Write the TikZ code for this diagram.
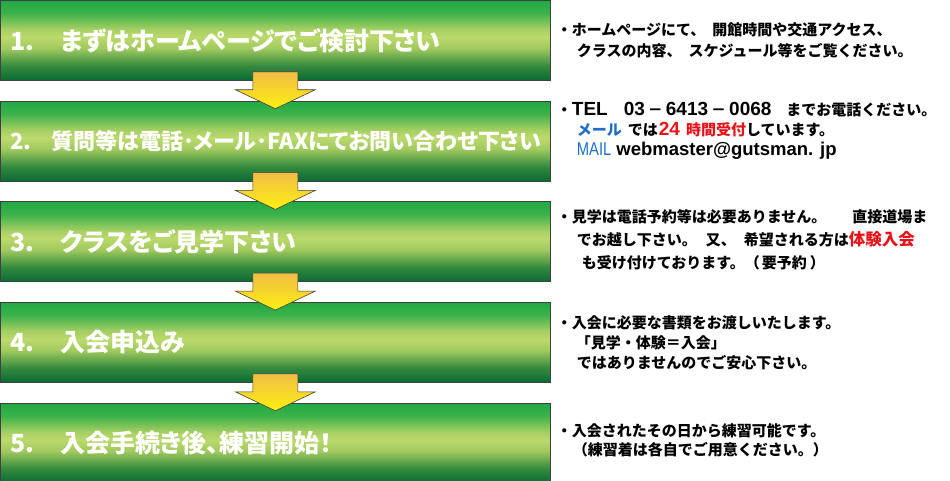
\documentclass[tikz,border=0pt]{standalone}
\usepackage{fontspec}
\usepackage{graphicx}
\setmainfont{Noto Sans CJK JP}
\newfontfamily\headfont{Noto Sans CJK JP}[RawFeature=+palt]
\newfontfamily\latinfont{Liberation Sans}
\usetikzlibrary{positioning,calc}

\definecolor{mailblue}{HTML}{1F6FC8}
\definecolor{hotred}{HTML}{E5141B}
\definecolor{arrtop}{HTML}{F0BC45}
\definecolor{arrbot}{HTML}{FFF010}

% green band of the step boxes (25bp = bottom edge, 75bp = top edge)
\pgfdeclareverticalshading{stepshade}{100bp}{%
  color(0bp)=(rgb,255:red,10;green,106;blue,52);
  color(25bp)=(rgb,255:red,10;green,106;blue,52);
  color(34bp)=(rgb,255:red,52;green,138;blue,62);
  color(45bp)=(rgb,255:red,160;green,201;blue,94);
  color(52bp)=(rgb,255:red,188;green,217;blue,108);
  color(57bp)=(rgb,255:red,166;green,207;blue,99);
  color(67bp)=(rgb,255:red,61;green,178;blue,74);
  color(75bp)=(rgb,255:red,32;green,169;blue,70);
  color(100bp)=(rgb,255:red,32;green,169;blue,70)}

\newcommand{\stepnum}[3][50pt]{\makebox[#1][l]{#2}#3}
\newcommand{\bul}{・}
\newcommand{\ind}{\hspace{20pt}}
\newcommand{\lat}[1]{{\latinfont\fontsize{19}{20}\selectfont #1}}

\begin{document}
\begin{tikzpicture}[
  x=1pt, y=-1pt,
  node distance=20pt and 6pt,
  stepbox/.style={draw=black!75, line width=0.7pt, shading=stepshade,
    minimum width=550pt, minimum height=80pt, text width=530pt, inner xsep=10pt, align=left,
    text=white, font=\headfont\bfseries\fontsize{25}{30}\selectfont},
  note/.style={anchor=west, align=left, inner sep=0pt, font=\bfseries\fontsize{15}{21.5}\selectfont},
  goldarrow/.style={draw=black!75, line width=0.6pt, top color=arrtop, bottom color=arrbot, line join=miter}
]
\useasboundingbox (0,0) rectangle (950,480);

% steps
\node[stepbox, anchor=north west] (s1) at (0,0) {\stepnum{1.}{まずはホームページでご検討下さい}};
\node[stepbox, below=of s1, font=\headfont\bfseries\fontsize{22}{26}\selectfont] (s2) {\stepnum[41pt]{2.}{質問等は電話･メール･FAXにてお問い合わせ下さい}};
\node[stepbox, below=of s2] (s3) {\stepnum{3.}{クラスをご見学下さい}};
\node[stepbox, below=of s3] (s4) {\stepnum{4.}{入会申込み}};
\node[stepbox, below=of s4] (s5) {\stepnum{5.}{入会手続き後、練習開始！}};

% block arrows
\foreach \a/\b in {s1/s2,s2/s3,s3/s4,s4/s5}
  \draw[goldarrow] ($(\a.south)+(-22.5,-9)$) -- ++(45,0) -- ++(0,18) -- ++(17.5,0)
    -- ($(\b.north)+(0,8)$) -- ($(\a.south)+(-40,9)$) -- ++(17.5,0) -- cycle;

% notes
\node[note, right=of s1] (n1) {\bul ホームページにて、\hspace{7pt}開館時間や交通アクセス、\\
  \ind クラスの内容、\hspace{7pt}スケジュール等をご覧ください。};
\node[note, right=of s2, yshift=10pt, font=\bfseries\fontsize{15}{20}\selectfont] (n2) {\bul\lat{TEL}\hspace{16pt}\lat{03}\hspace{3pt}－\hspace{3pt}\lat{6413}\hspace{3pt}－\hspace{3pt}\lat{0068}\hspace{15pt}までお電話ください。\\
  \ind\textcolor{mailblue}{メール}\hspace{6pt}では\textcolor{hotred}{\hspace{1pt}\lat{24}\hspace{6pt}時間受付}しています。\\
  \ind\textcolor{mailblue}{\latinfont\fontsize{18.5}{20}\selectfont\mdseries\scalebox{0.8}[1]{MAIL}}\hspace{5pt}{\latinfont\bfseries\fontsize{18.5}{20}\selectfont webmaster@gutsman. jp}};
\node[note, right=of s3, yshift=2pt, font=\bfseries\fontsize{15}{23}\selectfont] (n3) {\bul 見学は電話予約等は必要ありません。\hspace{26pt}直接道場ま\\
  \ind でお越し下さい。\hspace{9pt}又、\hspace{8pt}希望される方は\textcolor{hotred}{\fontsize{16.5}{23}\selectfont 体験入会}\\
  \hspace{25pt}も受け付けております。（\hspace{2pt}要予約\hspace{3pt}）};
\node[note, right=of s4, font=\bfseries\fontsize{15}{20}\selectfont] (n4) {\bul 入会に必要な書類をお渡しいたします。\\
  \hspace{19pt}「見学・体験＝入会」\\
  \ind ではありませんのでご安心下さい。};
\node[note, right=of s5, yshift=2.5pt, font=\bfseries\fontsize{15}{19}\selectfont] (n5) {\bul 入会されたその日から練習可能です。\\
  \hspace{16pt}（練習着は各自でご用意ください。）};
\end{tikzpicture}
\end{document}
